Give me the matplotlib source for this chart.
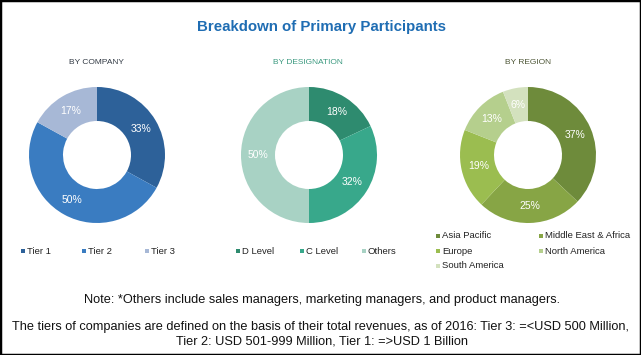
import matplotlib.pyplot as plt
from matplotlib.patches import Rectangle

plt.rcParams['font.family'] = ['Liberation Sans', 'DejaVu Sans']

# data
company_labels = ['Tier 1', 'Tier 2', 'Tier 3']
company_values = [33, 50, 17]
company_colors = ['#2d6199', '#3a7cc1', '#a7b8d6']

desig_labels = ['D Level', 'C Level', 'Others']
desig_values = [18, 32, 50]
desig_colors = ['#2e8b6f', '#38a88b', '#a8d2c4']

region_labels = ['Asia Pacific', 'Middle East & Africa', 'Europe', 'North America', 'South America']
region_values = [37, 25, 19, 13, 6]
region_colors = ['#6e8b3b', '#87a545', '#9bbd50', '#b5cf8d', '#d3e1be']

W, H = 641, 355
fig = plt.figure(figsize=(W / 100, H / 100), dpi=100)

# outer frame
fig.patches.append(Rectangle((0, 0), 1, 1, transform=fig.transFigure, fill=False,
                             edgecolor='black', linewidth=2.5))

fig.text(322 / W, 1 - 27 / H, 'Breakdown of Primary Participants', ha='center', va='center',
         fontsize=10.8, fontweight='bold', color='#1f6db3')

subtitles = [('BY COMPANY', 96, '#333b45'), ('BY DESIGNATION', 308, '#3c9a80'), ('BY REGION', 528, '#4d5636')]
for t, x, c in subtitles:
    fig.text(x / W, 1 - 63 / H, t, ha='center', va='center', fontsize=6, color=c)


def donut(cx, cy, vals, colors):
    r = 68
    ax = fig.add_axes([(cx - r) / W, 1 - (cy + r) / H, 2 * r / W, 2 * r / H])
    ax.pie(vals, colors=colors, startangle=90, counterclock=False,
           wedgeprops=dict(width=0.5, edgecolor='none'),
           autopct='%d%%', pctdistance=0.75,
           textprops=dict(color='white', fontsize=7.5))
    ax.set_xlim(-1, 1)
    ax.set_ylim(-1, 1)
    ax.set_aspect('equal')
    ax.axis('off')


donut(97, 155, company_values, company_colors)
donut(309, 155, desig_values, desig_colors)
donut(528, 155, region_values, region_colors)


def legend_item(x, y, label, color):
    s = 4
    fig.patches.append(Rectangle(((x - s / 2) / W, 1 - (y + s / 2) / H), s / W, s / H,
                                 transform=fig.transFigure, facecolor=color, edgecolor='none'))
    fig.text((x + 4) / W, 1 - y / H, label, ha='left', va='center', fontsize=6.8, color='#222222')


for i, (lab, col) in enumerate(zip(company_labels, company_colors)):
    legend_item([23, 84, 147][i], 251, lab, col)
for i, (lab, col) in enumerate(zip(desig_labels, desig_colors)):
    legend_item([238, 302, 364][i], 251, lab, col)
for i, (lab, col) in enumerate(zip(region_labels, region_colors)):
    legend_item([438, 541][i % 2], [236, 251, 266][i // 2], lab, col)

fig.text(322 / W, 1 - 300 / H,
         'Note: *Others include sales managers, marketing managers, and product managers.',
         ha='center', va='center', fontsize=9.2, color='#111111')
fig.text(320 / W, 1 - 327 / H,
         'The tiers of companies are defined on the basis of their total revenues, as of 2016: Tier 3: =<USD 500 Million,',
         ha='center', va='center', fontsize=9.2, color='#111111')
fig.text(322 / W, 1 - 342 / H,
         'Tier 2: USD 501-999 Million, Tier 1: =>USD 1 Billion',
         ha='center', va='center', fontsize=9.2, color='#111111')

fig.savefig('out.png', dpi=100)
